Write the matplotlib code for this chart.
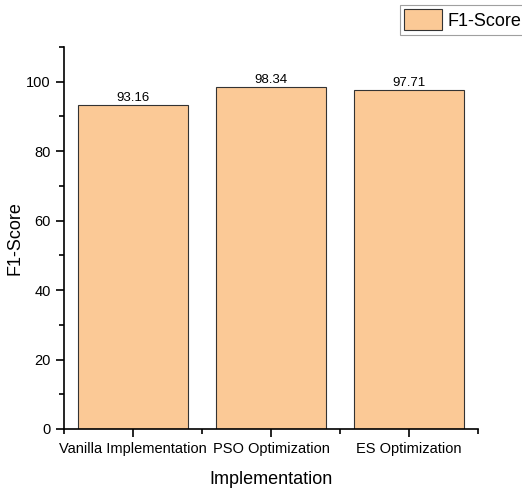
import matplotlib.pyplot as plt
from matplotlib.ticker import MultipleLocator

plt.rcParams["font.family"] = ["Liberation Sans", "DejaVu Sans"]

# ── data ───────────────────────────────────────────────────────────────────
categories = ["Vanilla Implementation", "PSO Optimization", "ES Optimization"]
f1_scores = [93.16, 98.34, 97.71]

BAR_COLOR = "#FBC996"

fig = plt.figure(figsize=(5.22, 4.91), dpi=100)
ax = fig.add_axes([0.1226, 0.1263, 0.7931, 0.778])

x = range(len(categories))
bars = ax.bar(x, f1_scores, width=0.8, color=BAR_COLOR, edgecolor="#333333",
              linewidth=0.8, label="F1-Score")

for rect, val in zip(bars, f1_scores):
    ax.text(rect.get_x() + rect.get_width() / 2, val + 0.3, f"{val:.2f}",
            ha="center", va="bottom", fontsize=9.5)

ax.set_xlim(-0.5, 2.5)
ax.set_ylim(0, 110)
ax.set_xticks(list(x))
ax.set_xticklabels(categories)
ax.xaxis.set_minor_locator(MultipleLocator(1, offset=0.5))
ax.yaxis.set_major_locator(MultipleLocator(20))
ax.yaxis.set_minor_locator(MultipleLocator(10))
ax.tick_params(axis="both", which="major", direction="out", length=6, width=1.2,
               labelsize=10.5)
ax.tick_params(axis="both", which="minor", direction="out", length=3.5, width=1.2)

for side in ("top", "right"):
    ax.spines[side].set_visible(False)
for side in ("left", "bottom"):
    ax.spines[side].set_linewidth(1.2)

ax.set_xlabel("Implementation", fontsize=13, labelpad=11)
ax.set_ylabel("F1-Score", fontsize=13)
ax.yaxis.set_label_coords(-0.098, 0.5)

leg = fig.legend(loc="upper right", bbox_to_anchor=(1.008, 0.99), fontsize=13,
                 fancybox=False, edgecolor="#888888", handlelength=2.1,
                 handleheight=1.4, handletextpad=0.3, borderpad=0.25,
                 borderaxespad=0)
leg.get_frame().set_linewidth(0.8)

fig.savefig("out.png", dpi=100)
